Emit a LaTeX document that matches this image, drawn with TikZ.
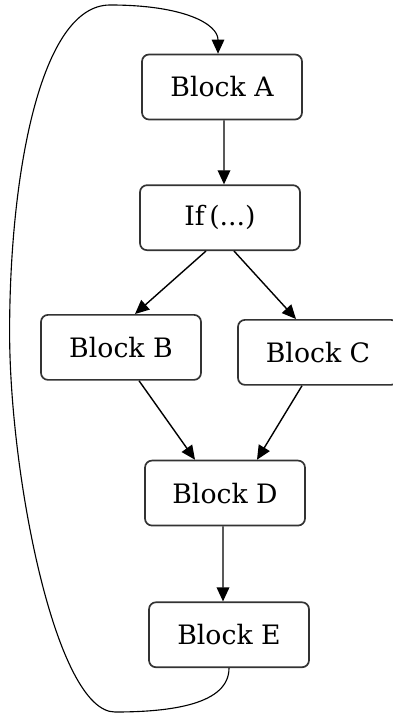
\documentclass[tikz,border=0pt]{standalone}
\usepackage{fontspec}
\setmainfont{DejaVu Serif}
\usetikzlibrary{arrows.meta, positioning}

\begin{document}
\begin{tikzpicture}[
  font=\fontsize{19}{22}\selectfont,
  node distance=1.6cm and 1cm,
  block/.style={draw, rounded corners=5pt, align=center, minimum width=4cm, minimum height=1.625cm, fill=white, line width=1.2pt, draw=black!80},
  arrow/.style={-{Triangle[length=10pt, width=9pt]}, line width=1pt},
  loop/.style={-{Triangle[length=10pt, width=9pt]}, line width=0.8pt}
]
  \useasboundingbox (0,0) rectangle (9.8,-17.875);

  \node[block] at (5.55,-2.175) (blka) {Block A};
  \node[block, below=of blka, xshift=-0.05cm] (cond) {If\,(...)};
  \node[block, below=1.575cm of cond, xshift=-2.475cm] (blkb) {Block B};
  \node[block, below=1.7cm of cond, xshift=2.45cm] (blkc) {Block C};
  \node[block, below=1.975cm of blkb, xshift=2.6cm] (blkd) {Block D};
  \node[block, below=1.875cm of blkd, xshift=0.1cm] (blke) {Block E};

  % way back from E to A
  \coordinate (bottom) at (2.875,-17.8);
  \coordinate (side) at (0.24,-8.3);
  \coordinate (top) at (2.75,-0.125);

  \draw[arrow] ([xshift=0.05cm]blka.south) -- ([xshift=0.1cm]cond.north);
  \draw[arrow] ([xshift=-0.35cm]cond.south) -- ([xshift=0.35cm]blkb.north);
  \draw[arrow] ([xshift=0.35cm]cond.south) -- ([xshift=-0.55cm]blkc.north);
  \draw[arrow] ([xshift=0.45cm]blkb.south) -- ([xshift=-0.75cm]blkd.north);
  \draw[arrow] ([xshift=-0.4cm]blkc.south) -- ([xshift=0.8cm]blkd.north);
  \draw[arrow] ([xshift=-0.05cm]blkd.south) -- ([xshift=-0.15cm]blke.north);

  \draw[loop] (blke.south) .. controls +(0,-0.9) and (4.3,-17.8) .. (bottom)
    .. controls (1.4,-17.8) and (0.24,-11.9) .. (side)
    .. controls (0.24,-4.4) and (1.0,-0.125) .. (top)
    .. controls (4.6,-0.125) and (5.45,-0.6) .. ([xshift=-0.1cm]blka.north);
\end{tikzpicture}
\end{document}
